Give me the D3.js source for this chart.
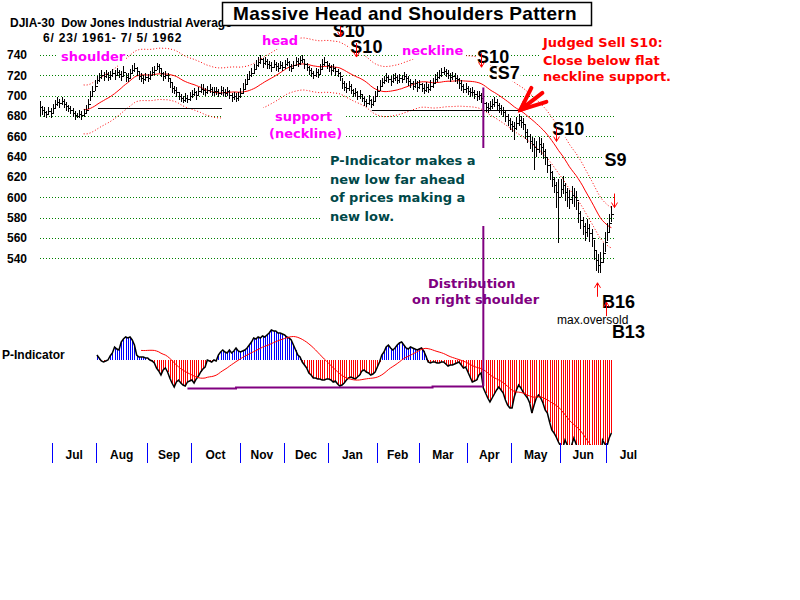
<!DOCTYPE html>
<html>
<head>
<meta charset="utf-8">
<script src="https://cdn.jsdelivr.net/npm/d3@7"></script>
<style>
  html, body { margin: 0; padding: 0; background: #fff; }
  svg { display: block; font-family: Arial, "Liberation Sans", sans-serif; }
</style>
</head>
<body>
<svg id="chart" width="800" height="600"></svg>
<script>
// DJIA daily bars, 6/23/1961 - 7/5/1962 (one value per trading day)
const closes = [
  689, 686, 684, 682, 685, 683, 688, 692, 694, 693,
  695, 692, 690, 688, 686, 683, 681, 680, 682, 681,
  683, 686, 692, 700, 705, 710, 715, 718, 720, 719,
  721, 718, 720, 722, 720, 723, 721, 719, 723, 718,
  717, 722, 725, 727, 724, 719, 717, 716, 718, 717,
  720, 723, 725, 729, 727, 722, 719, 720, 717, 713,
  708, 706, 704, 700, 698, 696, 698, 697, 700, 702,
  704, 701, 705, 707, 706, 704, 706, 707, 704, 705,
  705, 703, 706, 704, 703, 705, 701, 699, 700, 698,
  700, 703, 707, 711, 716, 720, 722, 726, 730, 733,
  736, 732, 734, 731, 730, 728, 731, 729, 727, 730,
  728, 731, 733, 729, 727, 730, 734, 732, 735, 736,
  731, 728, 725, 722, 720, 723, 721, 726, 731, 733,
  730, 728, 725, 727, 724, 722, 719, 712, 709, 708,
  710, 706, 703, 704, 700, 702, 698, 695, 693, 696,
  692, 695, 700, 705, 710, 713, 715, 718, 716, 714,
  717, 718, 715, 717, 716, 719, 717, 714, 712, 710,
  712, 709, 711, 708, 706, 709, 707, 710, 712, 716,
  718, 720, 723, 724, 722, 720, 718, 719, 717, 716,
  712, 710, 707, 708, 705, 704, 704, 702, 700, 701,
  698, 693, 689, 688, 690, 692, 694, 691, 688, 686,
  684, 680, 676, 672, 670, 668, 673, 676, 674, 672,
  664, 660, 655, 652, 650, 648, 652, 650, 646, 640,
  632, 625, 618, 612, 605, 600, 608, 612, 605, 600,
  598, 602, 600, 597, 585, 578, 572, 566, 570, 565,
  560, 548, 538, 534, 536, 545, 556, 566, 575, 584
];
// points from close up to the day's high
const barUp = [
  6, 4, 5, 3, 4, 5, 4, 4, 5, 4,   4, 5, 4, 3, 4, 5, 4, 3, 4, 4,
  4, 5, 5, 5, 5, 5, 4, 4, 5, 4,   4, 5, 4, 4, 5, 4, 4, 5, 6, 4,
  5, 4, 5, 5, 4, 4, 5, 4, 4, 4,   4, 5, 4, 3, 4, 5, 4, 4, 5, 4,
  4, 4, 5, 4, 4, 4, 5, 4, 4, 4,   4, 4, 4, 4, 5, 4, 4, 4, 5, 4,
  4, 4, 4, 5, 4, 4, 5, 4, 4, 5,   4, 5, 5, 5, 5, 4, 5, 5, 5, 5,
  4, 5, 4, 5, 4, 5, 4, 4, 5, 4,   5, 4, 4, 5, 4, 4, 4, 5, 4, 4,
  5, 4, 4, 5, 4, 4, 5, 5, 5, 5,   4, 4, 5, 4, 4, 4, 4, 5, 5, 4,
  4, 5, 4, 4, 5, 4, 4, 5, 4, 5,   5, 5, 5, 5, 5, 4, 4, 4, 4, 5,
  4, 4, 5, 4, 4, 4, 4, 5, 4, 4,   4, 5, 4, 4, 5, 4, 4, 5, 5, 5,
  5, 5, 4, 4, 4, 5, 4, 4, 5, 4,   5, 5, 4, 4, 5, 4, 5, 4, 5, 4,
  5, 6, 5, 5, 5, 5, 5, 6, 5, 5,   5, 6, 6, 6, 5, 6, 6, 6, 6, 6,
  7, 7, 7, 7, 8, 7, 7, 8, 7, 8,   8, 8, 8, 8, 10, 18, 10, 9, 9, 9,
  9, 9, 9, 9, 10, 9, 9, 9, 9, 9,  9, 10, 10, 10, 10, 10, 10, 9, 9, 8
];
// points from close down to the day's low
const barDown = [
  9, 5, 5, 4, 4, 5, 5, 4, 4, 5,   4, 4, 5, 4, 4, 4, 5, 2, 4, 5,
  4, 4, 5, 5, 5, 5, 4, 5, 4, 5,   4, 4, 5, 4, 5, 4, 4, 5, 4, 5,
  4, 5, 4, 4, 5, 4, 4, 5, 4, 4,   5, 4, 5, 4, 5, 4, 5, 4, 4, 5,
  5, 4, 5, 4, 4, 3, 4, 4, 5, 4,   4, 5, 4, 4, 5, 4, 4, 4, 4, 5,
  4, 4, 5, 4, 4, 5, 4, 5, 4, 4,   5, 5, 5, 5, 5, 5, 4, 5, 4, 5,
  5, 5, 4, 5, 4, 5, 4, 5, 4, 4,   4, 5, 4, 5, 4, 4, 5, 4, 5, 4,
  5, 4, 5, 4, 4, 5, 4, 5, 5, 4,   4, 5, 5, 4, 5, 4, 5, 5, 4, 5,
  5, 4, 4, 5, 4, 5, 4, 5, 4, 5,   4, 5, 5, 5, 5, 4, 4, 5, 4, 4,
  5, 4, 4, 5, 4, 4, 5, 4, 4, 4,   4, 5, 4, 4, 4, 5, 4, 5, 4, 5,
  5, 4, 5, 4, 4, 4, 5, 4, 4, 5,   5, 5, 4, 5, 4, 5, 4, 5, 5, 5,
  5, 6, 5, 5, 5, 5, 5, 6, 5, 5,   5, 6, 6, 6, 6, 12, 7, 6, 6, 6,
  7, 7, 7, 7, 23, 8, 8, 8, 8, 8,  8, 8, 8, 8, 15, 45, 8, 9, 9, 9,
  9, 9, 9, 9, 10, 9, 9, 9, 9, 9,  9, 10, 10, 8, 10, 10, 10, 9, 9, 8
];

// P-Indicator, starting at bar 26
const pIndStart = 26;
const pInd = [
  5, 2, -1, -2, -1, 0, 4, 7, 13, 11,
  10, 18, 21, 23, 22, 23, 20, 15, 5, 3,
  3, 3, 2, 2, 0, -1, -3, -8, -11, -15,
  -10, -8, -12, -18, -23, -27, -22, -20, -23, -25,
  -26, -22, -21, -20, -23, -19, -16, -12, -9, -7,
  0, -1, -2, 0, -1, 5, 8, 10, 8, 7,
  10, 7, 9, 12, 9, 8, 9, 10, 12, 15,
  18, 22, 21, 23, 22, 24, 23, 25, 27, 30,
  29, 29, 27, 27, 26, 25, 23, 22, 20, 15,
  10, 5, 3, -2, -5, -8, -13, -15, -18, -18,
  -19, -19, -20, -20, -19, -19, -20, -22, -21, -24,
  -26, -25, -23, -20, -18, -17, -18, -19, -17, -15,
  -11, -10, -12, -13, -15, -14, -12, -7, -2, 5,
  8, 13, 15, 12, 10, 12, 15, 17, 18, 15,
  12, 11, 13, 12, 11, 10, 11, 12, 9, 4,
  -2, -3, -2, -2, -3, -3, -2, -2, -4, -6,
  -5, -5, -4, -3, -2, -5, -8, -7, -12, -17,
  -22, -21, -20, -15, -13, -28, -33, -38, -42, -38,
  -34, -30, -27, -30, -33, -40, -45, -48, -48, -37,
  -30, -25, -28, -32, -35, -38, -43, -53, -45, -38,
  -35, -38, -43, -50, -53, -62, -70, -73, -77, -82,
  -86, -88, -80, -85, -92, -85, -78, -84, -90, -95,
  -100, -104, -106, -105, -108, -110, -112, -110, -102, -80,
  -84, -86, -78, -73
];

const priceTicks = [740, 720, 700, 680, 660, 640, 620, 600, 580, 560, 540];
const monthNames = ['Jul', 'Aug', 'Sep', 'Oct', 'Nov', 'Dec', 'Jan', 'Feb', 'Mar', 'Apr', 'May', 'Jun', 'Jul'];
const monthStartBars = [6, 26, 49, 69, 91, 111, 131, 153, 172, 194, 214, 236, 257];

// flat neckline support lines
const necklineFrom = [26.5, 150.5];
const necklineTo = [83, 217.5];
const necklineLevel = [688, 686];

// P-Indicator support line and the "distribution" marker
const supportBars = [67, 89, 89, 178, 178, 201];
const supportLevels = [-28, -28, -27, -27, -26, -26];
const distributionBar = 201;
const distributionTop = 708;

// signals
const signalNames = ['S10', 'S10', 'S10', 'S9', 'S7', 'S10', 'S9', 'B16', 'B13'];
const signalBars = [136, 143.5, 200, 203.5, 207.5, 234, 260, 252.5, 256.5];
const signalLevels = [758, 738, 728, 716, 716, 655, 590, 516, 497];
const signalDirs = ['down', 'down', 'down', 'none', 'none', 'down', 'down', 'up', 'up'];

const bigArrowBar = 218;
const bigArrowLevel = 686;

const movingAvg = (values, n) =>
  values.map((v, i) => (i < n - 1 ? null : d3.mean(values.slice(i - n + 1, i + 1))));

const svg = d3.select('#chart');
const font = 'Arial, "Liberation Sans", sans-serif';
const noteFont = '"DejaVu Sans", Verdana, sans-serif';

// scales
const x = d3.scaleLinear().domain([0, 259]).range([39.5, 611.4]);
const y = d3.scaleLinear().domain([540, 740]).range([258.4, 55]);
const yInd = d3.scaleLinear().domain([-85, 45]).range([445, 315]);
const px = i => Math.round(x(i)) + 0.5;

// grid
svg.append('g')
  .selectAll('line')
  .data(priceTicks)
  .join('line')
  .attr('x1', 40).attr('x2', 614)
  .attr('y1', d => Math.round(y(d)) + 0.5)
  .attr('y2', d => Math.round(y(d)) + 0.5)
  .attr('stroke', '#008000')
  .attr('stroke-dasharray', '1,2');

// y axis labels
svg.append('g')
  .attr('transform', 'translate(27,0)')
  .call(d3.axisLeft(y).tickValues(priceTicks).tickSize(0).tickPadding(0).tickFormat(d3.format('d')))
  .call(g => g.select('.domain').remove())
  .attr('font-family', font)
  .attr('font-size', 12)
  .attr('font-weight', 'bold');

// moving average and bands
const ma = movingAvg(closes, 21);
const upper = ma.map(v => (v == null ? null : v * 1.035));
const lower = ma.map(v => (v == null ? null : v * 0.965));
const priceLine = d3.line()
  .defined(d => d != null)
  .x((d, i) => x(i))
  .y(d => y(d));

svg.append('path').attr('d', priceLine(upper))
  .attr('fill', 'none').attr('stroke', '#ff0000').attr('stroke-dasharray', '1,2');
svg.append('path').attr('d', priceLine(lower))
  .attr('fill', 'none').attr('stroke', '#ff0000').attr('stroke-dasharray', '1,2');
svg.append('path').attr('d', priceLine(ma))
  .attr('fill', 'none').attr('stroke', '#ff0000').attr('stroke-width', 1);

// neckline support lines
svg.append('g')
  .selectAll('line')
  .data(necklineLevel)
  .join('line')
  .attr('x1', (d, k) => x(necklineFrom[k]))
  .attr('x2', (d, k) => x(necklineTo[k]))
  .attr('y1', d => Math.round(y(d)) + 0.5)
  .attr('y2', d => Math.round(y(d)) + 0.5)
  .attr('stroke', '#000');

// price bars
const gBars = svg.append('g').attr('stroke', '#000').attr('shape-rendering', 'crispEdges');
gBars.selectAll('line.hl')
  .data(closes)
  .join('line')
  .attr('class', 'hl')
  .attr('x1', (d, i) => px(i)).attr('x2', (d, i) => px(i))
  .attr('y1', (d, i) => y(d + barUp[i]))
  .attr('y2', (d, i) => y(d - barDown[i]));
gBars.selectAll('line.cl')
  .data(closes)
  .join('line')
  .attr('class', 'cl')
  .attr('x1', (d, i) => px(i)).attr('x2', (d, i) => px(i) + 2)
  .attr('y1', d => Math.round(y(d)) + 0.5)
  .attr('y2', d => Math.round(y(d)) + 0.5);

// P-Indicator panel
svg.append('clipPath').attr('id', 'indClip')
  .append('rect').attr('x', 0).attr('y', 290).attr('width', 800).attr('height', 155);
const gInd = svg.append('g').attr('clip-path', 'url(#indClip)');
const indData = pInd.map((v, k) => ({ i: pIndStart + k, v }));

gInd.append('g').attr('shape-rendering', 'crispEdges')
  .selectAll('line')
  .data(indData.filter(d => d.v !== 0))
  .join('line')
  .attr('x1', d => px(d.i)).attr('x2', d => px(d.i))
  .attr('y1', yInd(0))
  .attr('y2', d => yInd(d.v))
  .attr('stroke', d => (d.v > 0 ? '#0000ff' : '#ff0000'));

gInd.append('path')
  .attr('d', d3.line().x(d => x(d.i)).y(d => yInd(d.v))(indData))
  .attr('fill', 'none').attr('stroke', '#000').attr('stroke-width', 1.5);

const indMa = movingAvg(pInd, 21);
gInd.append('path')
  .attr('d', d3.line().defined(d => d != null).x((d, k) => x(pIndStart + k)).y(d => yInd(d))(indMa))
  .attr('fill', 'none').attr('stroke', '#ff0000').attr('stroke-width', 1);

// purple support + distribution line
svg.append('path')
  .attr('d', d3.line().x(d => x(d)).y((d, k) => Math.round(yInd(supportLevels[k])) + 0.5)(supportBars))
  .attr('fill', 'none').attr('stroke', '#800080').attr('stroke-width', 2);
svg.append('line')
  .attr('x1', x(distributionBar)).attr('x2', x(distributionBar))
  .attr('y1', y(distributionTop)).attr('y2', yInd(supportLevels[supportLevels.length - 1]))
  .attr('stroke', '#800080').attr('stroke-width', 2);

// month ticks and labels
const gMonths = svg.append('g');
gMonths.selectAll('line')
  .data(monthStartBars)
  .join('line')
  .attr('x1', d => Math.round(x(d - 0.3)) + 0.5)
  .attr('x2', d => Math.round(x(d - 0.3)) + 0.5)
  .attr('y1', 443).attr('y2', 463)
  .attr('stroke', '#0000ff');
gMonths.selectAll('text')
  .data(monthNames)
  .join('text')
  .attr('x', (d, k) => {
    const a = monthStartBars[k];
    const b = k + 1 < monthStartBars.length ? monthStartBars[k + 1] : a + 20;
    return x((a + b) / 2 - 0.3);
  })
  .attr('y', 459)
  .attr('text-anchor', 'middle')
  .attr('font-family', font).attr('font-size', 12).attr('font-weight', 'bold')
  .text(d => d);

// annotation text blocks (white boxes mask the grid behind them)
const notes = [
  { lines: ['shoulder'], tx: 61, ty: [61], color: '#ff00ff', box: [58, 46, 68, 19] },
  { lines: ['head'], tx: 262, ty: [45], color: '#ff00ff', box: [258, 31, 42, 18] },
  { lines: ['neckline'], tx: 402, ty: [55], color: '#ff00ff', box: [399, 42, 67, 17] },
  { lines: ['support'], tx: 275, ty: [121], color: '#ff00ff', box: [222, 108, 123, 19] },
  { lines: ['(neckline)'], tx: 269, ty: [138], color: '#ff00ff', box: [258, 127, 87, 19] },
  { lines: ['P-Indicator makes a', 'new low far ahead', 'of prices making a', 'new low.'],
    tx: 330, ty: [165, 183.5, 202, 220.5], color: '#004848', box: [322, 148, 175, 78] },
  { lines: ['Judged Sell S10:', 'Close below flat', 'neckline support.'],
    tx: 543, ty: [47, 65, 81], color: '#ff0000', box: [540, 33, 140, 67] },
  { lines: ['Distribution'], tx: 428, ty: [288], color: '#800080', box: null },
  { lines: ['on right shoulder'], tx: 412, ty: [304], color: '#800080', box: null }
];
notes.forEach(n => {
  const g = svg.append('g');
  if (n.box) {
    g.append('rect').attr('x', n.box[0]).attr('y', n.box[1])
      .attr('width', n.box[2]).attr('height', n.box[3]).attr('fill', '#fff');
  }
  n.lines.forEach((t, k) => {
    g.append('text').attr('x', n.tx).attr('y', n.ty[k])
      .attr('font-family', noteFont).attr('font-size', 13).attr('font-weight', 'bold')
      .attr('fill', n.color).text(t);
  });
});

svg.append('text').attr('x', 2).attr('y', 359)
  .attr('font-family', font).attr('font-size', 12).attr('font-weight', 'bold')
  .text('P-Indicator');
svg.append('text').attr('x', 557).attr('y', 324)
  .attr('font-family', font).attr('font-size', 12)
  .text('max.oversold');

// signal labels
const labelOffsets = [[-7, 0], [-6, -4], [-4, -4], [0, 0], [0, 0], [-4, -6], [-9, -42], [5, 25], [6, 36]];
signalNames.forEach((name, k) => {
  const g = svg.append('g');
  const t = g.append('text')
    .attr('x', x(signalBars[k]) + labelOffsets[k][0])
    .attr('y', y(signalLevels[k]) + labelOffsets[k][1])
    .attr('font-family', font).attr('font-size', 18).attr('font-weight', 'bold')
    .attr('fill', '#000').text(name);
  const bb = t.node().getBBox();
  g.insert('rect', 'text')
    .attr('x', bb.x - 1).attr('y', bb.y + 3)
    .attr('width', bb.width + 2).attr('height', bb.height - 5)
    .attr('fill', '#fff');
});

// signal arrows
const gArrows = svg.append('g').attr('stroke', '#ff0000').attr('fill', 'none');
signalNames.forEach((name, k) => {
  const dir = signalDirs[k];
  if (dir === 'none') return;
  const ax = Math.round(x(signalBars[k])) + 0.5;
  const ay = y(signalLevels[k]);
  const s = dir === 'down' ? -1 : 1;
  gArrows.append('path')
    .attr('d', `M${ax},${ay + s * 14}L${ax},${ay}M${ax - 3},${ay + s * 5}L${ax},${ay}L${ax + 3},${ay + s * 5}`);
});

// big red arrow pointing at the neckline break
const bx = x(bigArrowBar) - 0.5;
const by = y(bigArrowLevel);
const gBig = svg.append('g').attr('stroke', '#ff0000').attr('stroke-width', 4)
  .attr('stroke-linecap', 'round').attr('fill', '#ff0000');
gBig.append('path').attr('d', `M${bx},${by}L${bx + 11},${by - 22}`);
gBig.append('path').attr('d', `M${bx},${by}L${bx + 22},${by - 17}`);
gBig.append('path').attr('d', `M${bx},${by}L${bx + 26},${by - 8}`);
gBig.append('path').attr('stroke-width', 1)
  .attr('d', `M${bx - 2},${by + 2}L${bx + 3},${by - 9}L${bx + 9},${by - 2}Z`);

// header
svg.append('text').attr('x', 10).attr('y', 27)
  .attr('font-family', font).attr('font-size', 12).attr('font-weight', 'bold')
  .style('white-space', 'pre')
  .text('DJIA-30  Dow Jones Industrial Average');
svg.append('text').attr('x', 43).attr('y', 42)
  .attr('font-family', font).attr('font-size', 12).attr('font-weight', 'bold')
  .attr('letter-spacing', 0.8)
  .style('white-space', 'pre')
  .text('6/ 23/ 1961- 7/ 5/ 1962');

svg.append('rect').attr('x', 222.5).attr('y', 2.5).attr('width', 369).attr('height', 23)
  .attr('fill', '#fff').attr('stroke', '#000').attr('stroke-width', 1.5);
svg.append('text').attr('x', 405).attr('y', 20)
  .attr('text-anchor', 'middle')
  .attr('font-family', font).attr('font-size', 19).attr('font-weight', 'bold')
  .attr('letter-spacing', 0.3)
  .text('Massive Head and Shoulders Pattern');
</script>
</body>
</html>
